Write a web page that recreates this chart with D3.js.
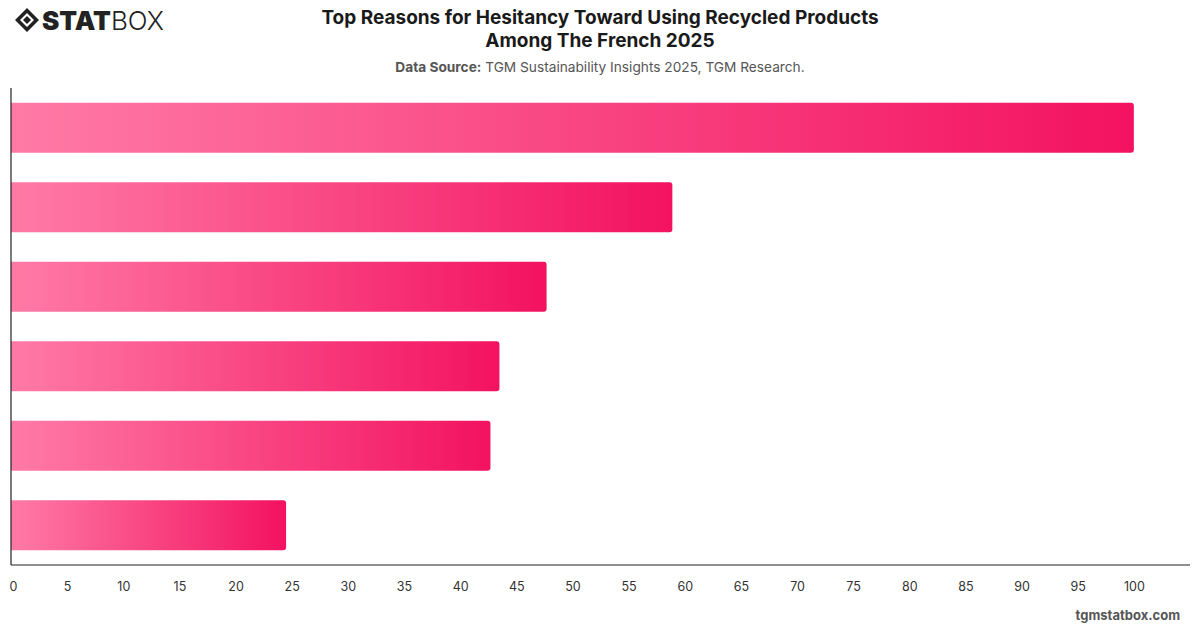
<!DOCTYPE html>
<html><head><meta charset="utf-8">
<script src="https://cdn.jsdelivr.net/npm/d3@7"></script>
<style>
html,body{margin:0;padding:0;background:#fff;}
svg{display:block;font-family:Inter,"Noto Sans",sans-serif;}
</style></head>
<body>
<svg id="chart" width="1200" height="628"></svg>
<script>
const categories = ["Reason 1","Reason 2","Reason 3","Reason 4","Reason 5","Reason 6"];
const values = [100, 58.9, 47.7, 43.5, 42.7, 24.5];
const tickValues = [0,5,10,15,20,25,30,35,40,45,50,55,60,65,70,75,80,85,90,95,100];
const titleLines = ["Top Reasons for Hesitancy Toward Using Recycled Products","Among The French 2025"];

const svg = d3.select("#chart");
const m = {left: 11, right: 1190, top: 88, bottom: 565};

const x = d3.scaleLinear().domain([0,105]).range([m.left, m.right]);
const y = d3.scaleBand().domain(categories).range([m.top, m.bottom]).paddingInner(0.37).paddingOuter(0.185);

const defs = svg.append("defs");
const grad = defs.append("linearGradient").attr("id","barGrad")
  .attr("x1","0%").attr("x2","100%").attr("y1","0%").attr("y2","0%");
grad.append("stop").attr("offset","0%").attr("stop-color","#ff7aa6");
grad.append("stop").attr("offset","100%").attr("stop-color","#f31260");

const r = 3;
svg.append("g").selectAll("path").data(values).join("path")
  .attr("fill","url(#barGrad)")
  .attr("d",(d,i)=>{
    const x0 = x(0), x1 = x(d), y0 = y(categories[i]), h = y.bandwidth();
    return `M${x0},${y0}H${x1-r}Q${x1},${y0} ${x1},${y0+r}V${y0+h-r}Q${x1},${y0+h} ${x1-r},${y0+h}H${x0}Z`;
  });

const xAxis = d3.axisBottom(x).tickValues(tickValues).tickSize(0).tickPadding(17);
const gx = svg.append("g").attr("transform",`translate(0,${m.bottom})`).call(xAxis);
gx.select(".domain").attr("stroke","#222").attr("stroke-width",1.2).attr("d",`M${m.left},0H${m.right}`);
gx.selectAll("text").attr("font-size",12.5).attr("fill","#333").attr("font-family","Inter,sans-serif");
gx.selectAll(".tick").filter(d=>d===0).select("text").attr("dx",2);

const yAxis = d3.axisLeft(y).tickSize(0).tickFormat("");
const gy = svg.append("g").attr("transform",`translate(${m.left},0)`).call(yAxis);
gy.select(".domain").attr("stroke","#222").attr("stroke-width",1.2).attr("d",`M0,${m.top}V${m.bottom}`);

svg.append("g").selectAll("text").data(titleLines).join("text")
  .attr("x",600).attr("y",(d,i)=>24+i*23).attr("text-anchor","middle")
  .attr("font-size",19).attr("font-weight",700).attr("fill","#1a1a1a").text(d=>d);

const sub = svg.append("text").attr("x",600).attr("y",72).attr("text-anchor","middle")
  .attr("font-size",13.7).attr("fill","#555");
sub.append("tspan").attr("font-weight",700).text("Data Source:");
sub.append("tspan").text(" TGM Sustainability Insights 2025, TGM Research.");

svg.append("text").attr("x",1180).attr("y",620).attr("text-anchor","end")
  .attr("font-size",13).attr("font-weight",700).attr("fill","#555").text("tgmstatbox.com");

const logo = svg.append("g").attr("transform","translate(15,8)");
logo.append("path").attr("d","M12,0 L24,12 L12,24 L0,12 Z M12,5 L19,12 L12,19 L5,12 Z")
  .attr("fill","#222").attr("fill-rule","evenodd");
logo.append("path").attr("d","M12,8 L16,12 L12,16 L8,12 Z").attr("fill","#222");
const lt = logo.append("text").attr("x",27).attr("y",22).attr("font-size",26).attr("fill","#222")
  .attr("font-family","Inter,sans-serif");
lt.append("tspan").attr("font-weight",900).text("STAT");
lt.append("tspan").attr("font-weight",300).text("BOX");
</script>
</body></html>
